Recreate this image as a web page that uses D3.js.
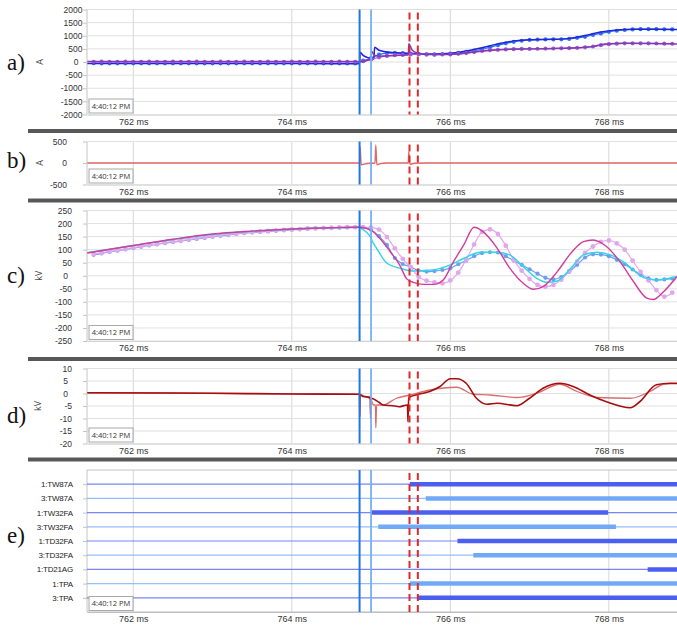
<!DOCTYPE html>
<html>
<head>
<meta charset="utf-8">
<title>Fault record</title>
<script src="https://cdnjs.cloudflare.com/ajax/libs/d3/7.8.5/d3.min.js"></script>
<style>
  body { margin: 0; background: #fff; }
  svg { display: block; font-family: "Open Sans", sans-serif; }
</style>
</head>
<body>
<script>
// ---- time axis (ms) ----
const tStart = 761.416, tEnd = 768.86;
const msTicks = [762, 764, 766, 768];
const stampText = '4:40:12 PM';

// dotted traces are sampled every 0.1 ms starting at 761.5 ms
const gridStart = 761.5, gridStep = 0.1;

// event markers (ms)
const trigMain = 764.855, trigSecond = 765.0;
const tripA = 765.485, tripB = 765.59;

// ---- a) currents, A ----
const aTicks = [-2000, -1500, -1000, -500, 0, 500, 1000, 1500, 2000];
const iaDotted = [
  -48, -50, -50, -52, -50, -50, -50, -52, -50, -50,
  -50, -52, -50, -50, -50, -52, -50, -50, -52, -50,
  -50, -52, -50, -50, -52, -50, -50, -52, -50, -52,
  -50, -52, -55, -55,
  50, 150, 280, 340, 350, 340, 320, 300, 290, 290,
  300, 320, 350, 390, 430, 480, 560, 640, 710, 770,
  810, 840, 855, 860, 860, 865, 880, 920, 960, 1030,
  1090, 1150, 1190, 1220, 1240, 1250, 1250, 1250, 1245, 1240
];
const ibDotted = [
  10, 12, 10, 10, 12, 10, 10, 12, 10, 10,
  12, 10, 10, 12, 10, 10, 12, 10, 10, 12,
  10, 10, 12, 10, 10, 12, 10, 10, 12, 10,
  10, 12, 10, 10,
  30, 100, 180, 230, 260, 270, 290, 300, 290, 280,
  285, 290, 310, 340, 380, 420, 450, 465, 480, 490,
  500, 500, 505, 510, 515, 520, 525, 540, 560, 590,
  640, 680, 700, 710, 710, 710, 710, 705, 700, 695
];
const iaSolid = [
  [761.42, -58], [762.5, -60], [763.5, -60], [764.5, -62], [764.855, -62],
  [764.862, 370], [764.9, 250], [764.95, 175], [765.0, 125], [765.035, 115],
  [765.045, 560], [765.1, 450], [765.2, 385], [765.3, 355], [765.4, 340],
  [765.5, 320], [765.7, 305], [765.9, 315], [766.0, 335], [766.2, 420],
  [766.4, 545], [766.6, 690], [766.8, 805], [767.0, 850], [767.3, 865],
  [767.5, 900], [767.7, 1010], [767.9, 1140], [768.1, 1215], [768.3, 1245],
  [768.6, 1250], [768.86, 1240]
];
const ibSolid = [
  [761.42, 18], [763, 18], [764.86, 15], [764.95, 60], [764.99, 110],
  [765.0, 130], [765.005, 420], [765.04, 260], [765.1, 220], [765.3, 250],
  [765.45, 268], [765.47, 270], [765.476, 700], [765.52, 450], [765.6, 330],
  [765.7, 290], [766.0, 290], [766.3, 385], [766.6, 470], [767.0, 500],
  [767.5, 530], [767.8, 590], [767.95, 690], [768.2, 712], [768.86, 690]
];

// ---- b) residual current, A ----
const bTicks = [-500, 0, 500];
const inTrace = [
  [761.42, 0], [764.855, 0], [764.862, 380], [764.875, -40], [764.95, -10],
  [765.05, 0], [765.06, 420], [765.072, -40], [765.12, -15], [765.2, 0],
  [765.47, 0], [765.476, 260], [765.49, -30], [765.55, -5], [765.7, 0],
  [768.86, 0]
];

// ---- c) voltages, kV ----
const cTicks = [-250, -200, -150, -100, -50, 0, 50, 100, 150, 200, 250];
const vaDotted = [
  80, 86, 91, 96, 101, 106, 111, 116, 120, 125,
  129, 133, 137, 141, 145, 149, 153, 156, 160, 163,
  166, 168, 170, 172, 174, 176, 178, 179, 181, 182,
  183, 184, 185, 186,
  186, 176, 152, 118, 68, 45, 34, 20, 16, 18,
  22, 29, 44, 58, 75, 87, 90, 89, 75, 58,
  42, 25, 8, -8, -14, -5, 15, 42, 70, 82,
  81, 75, 61, 44, 24, 4, -10, -16, -14, -11
];
const vbDotted = [
  83, 88, 93, 98, 103, 108, 113, 118, 122, 127,
  131, 135, 139, 143, 147, 151, 155, 158, 161, 164,
  167, 170, 172, 174, 176, 178, 179, 181, 182, 183,
  184, 185, 186, 186,
  186, 185, 177, 148, 105, 65, 32, -4, -19, -25,
  -29, -18, 12, 62, 120, 168, 178, 160, 115, 60,
  20, -12, -35, -42, -35, -15, 18, 54, 88, 112,
  130, 135, 124, 100, 58, 15, -18, -55, -80, -65
];
const vaSolid = [
  [761.42, 88], [762, 116], [763, 158], [764, 179], [764.85, 186],
  [764.87, 182], [764.99, 150], [765.02, 130], [765.07, 105], [765.2, 48],
  [765.36, 29], [765.53, 18], [765.74, 21], [766.0, 42], [766.17, 67],
  [766.38, 90], [766.59, 90], [766.75, 80], [766.92, 35], [767.09, -10],
  [767.22, -25], [767.35, -20], [767.52, 29], [767.68, 80], [767.85, 90],
  [768.02, 80], [768.18, 54], [768.44, -7], [768.6, -16], [768.86, -3]
];
const vbSolid = [
  [761.42, 87], [762, 116], [762.5, 140], [763, 160], [763.5, 171],
  [764, 179], [764.5, 184], [764.86, 186], [764.99, 176], [765.11, 144],
  [765.24, 93], [765.36, 42], [765.45, -12], [765.53, -25], [765.66, -33],
  [765.79, -33], [765.91, -16], [766.04, 54], [766.17, 118], [766.3, 186],
  [766.41, 170], [766.59, 106], [766.75, 29], [766.92, -29], [767.05, -52],
  [767.17, -42], [767.35, 16], [767.52, 86], [767.68, 131], [767.8, 137],
  [767.97, 112], [768.14, 54], [768.31, -22], [768.48, -86], [768.56, -91],
  [768.69, -61], [768.86, -3]
];

// ---- d) residual voltages, kV ----
const dTicks = [-20, -15, -10, -5, 0, 5, 10];
const vnDark = [
  [761.42, 0.3], [763, 0.1], [764, -0.2], [764.855, -0.3], [764.857, -9.3],
  [764.86, -0.5], [764.9, -1.2], [764.99, -1.5], [764.995, -10], [765.0, -1.9],
  [765.1, -3.5], [765.15, -4.6], [765.3, -5.0], [765.35, -5.3], [765.46, -4.6],
  [765.465, -11.3], [765.475, -1.6], [765.6, -0.3], [765.74, 0.8], [765.87, 2.8],
  [766.0, 5.9], [766.08, 5.9], [766.2, 4.1], [766.33, -1.9], [766.46, -4.3],
  [766.59, -3.9], [766.84, -4.9], [767.0, -1.9], [767.17, 2.1], [767.38, 4.1],
  [767.55, 2.8], [767.76, -0.6], [767.97, -3.3], [768.27, -5.7], [768.39, -3.3],
  [768.6, 3.5], [768.77, 4.1], [768.86, 4.0]
];
const vnLight = [
  [761.42, 0.3], [764.85, -0.3], [764.9, -0.8], [765.0, -2.5], [765.03, -4.6],
  [765.055, -4.6], [765.06, -13.7], [765.07, -4.6], [765.15, -4.6], [765.32, -1.9],
  [765.49, -0.6], [765.74, 1.4], [766.08, 2.5], [766.29, -0.3], [766.5, -0.6],
  [766.84, -1.6], [767.09, 0.1], [767.38, 3.7], [767.6, 0.8], [767.85, -1.6],
  [768.27, -1.9], [768.52, 0.8], [768.69, 3.7], [768.86, 4.1]
];

// ---- e) digital channels ----
const rowNames = ['1:TW87A', '3:TW87A', '1:TW32FA', '3:TW32FA', '1:TD32FA',
                  '3:TD32FA', '1:TD21AG', '1:TPA', '3:TPA'];
const rowOn  = [765.49, 765.69, 765.0, 765.09, 766.09, 766.29, 768.49, 765.49, 765.59];
const rowOff = [null, null, 767.99, 768.09, null, null, null, null, null]; // null = still set at end
const rowTone = ['dark', 'light', 'dark', 'light', 'dark', 'light', 'dark', 'light', 'dark'];

// ------------------------------------------------------------
const W = 677, H = 628, plotLeft = 87;
const svg = d3.select('body').append('svg').attr('width', W).attr('height', H);
const x = d3.scaleLinear().domain([tStart, tEnd]).range([plotLeft, W]);

const gridTimes = n => d3.range(n).map(i => gridStart + i * gridStep);

// dark separator bars between the panels
[129, 198.5, 357, 457.5].forEach(yy => {
  svg.append('rect').attr('x', 28).attr('y', yy).attr('width', W - 28).attr('height', 4)
    .attr('fill', '#585858');
});

function frame(p) {
  const g = svg.append('g');
  const id = 'clip-' + p.key;
  svg.append('clipPath').attr('id', id).append('rect')
    .attr('x', plotLeft).attr('y', p.top).attr('width', W - plotLeft).attr('height', p.bottom - p.top);

  // vertical grid at ms ticks
  g.selectAll('.vg').data(msTicks).enter().append('line')
    .attr('x1', d => x(d)).attr('x2', d => x(d))
    .attr('y1', p.top).attr('y2', p.bottom)
    .attr('stroke', '#d6d6d6').attr('stroke-width', 1);

  // x axis labels
  const xa = g.append('g').attr('transform', `translate(0,${p.bottom})`)
    .call(d3.axisBottom(x).tickValues(msTicks).tickSize(0).tickPadding(4).tickFormat(d => d + ' ms'));
  xa.select('.domain').attr('stroke', '#c4c4c4');
  xa.selectAll('text').attr('fill', '#333').style('font-size', '9px');

  // plot border: left and top
  g.append('line').attr('x1', plotLeft).attr('x2', plotLeft).attr('y1', p.top).attr('y2', p.bottom)
    .attr('stroke', '#c4c4c4');
  g.append('line').attr('x1', plotLeft).attr('x2', W).attr('y1', p.top).attr('y2', p.top)
    .attr('stroke', '#c4c4c4');

  // panel letter
  svg.append('text').attr('x', 7).attr('y', p.letterY).text(p.key + ')')
    .style('font-family', '"Liberation Serif", serif').style('font-size', '23px').attr('fill', '#111');
  return g;
}

function yPanel(p) {
  const g = frame(p);
  const y = d3.scaleLinear().domain(d3.extent(p.ticks)).range([p.bottom, p.top]);

  g.selectAll('.hg').data(p.ticks).enter().append('line')
    .attr('x1', plotLeft).attr('x2', W).attr('y1', d => y(d)).attr('y2', d => y(d))
    .attr('stroke', '#e0e0e0').attr('stroke-width', 1);

  const ya = g.append('g').attr('transform', `translate(${plotLeft},0)`)
    .call(d3.axisLeft(y).tickValues(p.ticks).tickSize(4).tickPadding(p.pad).tickFormat(d => String(d)));
  ya.select('.domain').remove();
  ya.selectAll('line').attr('stroke', '#c4c4c4');
  ya.selectAll('text').attr('fill', '#333').style('font-size', '8.5px')
    .attr('dx', d => (p.shiftOne && String(d).length === 1) ? -4 : 0);

  svg.append('text').attr('transform', `translate(${p.unitX},${(p.top + p.bottom) / 2}) rotate(-90)`)
    .attr('text-anchor', 'middle').attr('dy', '0.35em').text(p.unit)
    .attr('fill', '#444').style('font-size', '9px');

  const plot = g.append('g').attr('clip-path', `url(#clip-${p.key})`);
  return { g, y, plot };
}

function solid(plot, y, pts, color, w) {
  const line = d3.line().x(d => x(d[0])).y(d => y(d[1])).curve(d3.curveMonotoneX);
  plot.append('path').datum(pts).attr('d', line)
    .attr('fill', 'none').attr('stroke', color).attr('stroke-width', w).attr('stroke-linejoin', 'round');
}

function dotted(plot, y, vals, color, r) {
  const pts = gridTimes(vals.length).map((t, i) => [t, vals[i]]);
  solid(plot, y, pts, color, 1.2);
  plot.append('g').selectAll('circle').data(pts).enter().append('circle')
    .attr('cx', d => x(d[0])).attr('cy', d => y(d[1])).attr('r', r).attr('fill', color);
}

function markers(g, p) {
  const mg = g.append('g');
  mg.append('line').attr('x1', x(trigMain)).attr('x2', x(trigMain))
    .attr('y1', p.top).attr('y2', p.bottom).attr('stroke', '#1f77e6').attr('stroke-width', 2);
  mg.append('line').attr('x1', x(trigSecond)).attr('x2', x(trigSecond))
    .attr('y1', p.top).attr('y2', p.bottom).attr('stroke', '#74b1f7').attr('stroke-width', 1.8);
  [tripA, tripB].forEach(t => {
    mg.append('line').attr('x1', x(t)).attr('x2', x(t))
      .attr('y1', p.top + 3).attr('y2', p.bottom).attr('stroke', '#e0282a')
      .attr('stroke-width', 2).attr('stroke-dasharray', '7,4');
  });
}

function stamp(g, p) {
  const bx = plotLeft + 2, bh = 14, bw = 44, by = p.bottom - bh - 1.5;
  g.append('rect').attr('x', bx).attr('y', by).attr('width', bw).attr('height', bh)
    .attr('fill', '#fff').attr('stroke', '#a8a8a8').attr('stroke-width', 1);
  g.append('text').attr('x', bx + bw / 2).attr('y', by + bh / 2).attr('dy', '0.35em')
    .attr('text-anchor', 'middle').text(stampText).attr('fill', '#333').style('font-size', '7.5px');
}

// a)
const pa = { key: 'a', top: 9.5, bottom: 114.5, ticks: aTicks, unit: 'A', unitX: 40, pad: 0.5, shiftOne: true, letterY: 70 };
let s = yPanel(pa);
dotted(s.plot, s.y, iaDotted, '#2c70f2', 2.1);
solid(s.plot, s.y, iaSolid, '#2222d6', 1.5);
dotted(s.plot, s.y, ibDotted, '#a654d8', 2.1);
solid(s.plot, s.y, ibSolid, '#7c3cb2', 1.5);
markers(s.g, pa); stamp(s.g, pa);

// b)
const pb = { key: 'b', top: 141.5, bottom: 184.5, ticks: bTicks, unit: 'A', unitX: 40, pad: 16, shiftOne: false, letterY: 168 };
s = yPanel(pb);
solid(s.plot, s.y, inTrace, '#e26868', 1.4);
markers(s.g, pb); stamp(s.g, pb);

// c)
const pc = { key: 'c', top: 210.5, bottom: 341, ticks: cTicks, unit: 'kV', unitX: 39, pad: 11, shiftOne: true, letterY: 283 };
s = yPanel(pc);
dotted(s.plot, s.y, vaDotted, '#6c9ff1', 2.1);
dotted(s.plot, s.y, vbDotted, '#e2a6ec', 2.4);
solid(s.plot, s.y, vaSolid, '#2fd5ea', 1.4);
solid(s.plot, s.y, vbSolid, '#d23c9c', 1.4);
markers(s.g, pc); stamp(s.g, pc);

// d)
const pd = { key: 'd', top: 368.5, bottom: 443.5, ticks: dTicks, unit: 'kV', unitX: 38, pad: 11, shiftOne: true, letterY: 423 };
s = yPanel(pd);
solid(s.plot, s.y, vnLight, '#d86e6c', 1.3);
solid(s.plot, s.y, vnDark, '#a50e0e', 1.6);
markers(s.g, pd); stamp(s.g, pd);

// e)
const pe = { key: 'e', top: 470, bottom: 612, letterY: 543 };
const ge = frame(pe);
const yr = d3.scalePoint().domain(rowNames).range([pe.top, pe.bottom]).padding(1);
const toneColor = { dark: '#4a5ef0', light: '#70aaf6' };
const ra = ge.append('g').attr('transform', `translate(${plotLeft},0)`)
  .call(d3.axisLeft(yr).tickSize(4).tickPadding(10));
ra.select('.domain').remove();
ra.selectAll('line').attr('stroke', '#c4c4c4');
ra.selectAll('text').attr('fill', '#222').style('font-size', '8px').style('letter-spacing', '-0.2px');
ge.append('line').attr('x1', plotLeft).attr('x2', W).attr('y1', pe.bottom).attr('y2', pe.bottom)
  .attr('stroke', '#b8b8c8');
svg.append('clipPath').attr('id', 'clip-e2').append('rect')
  .attr('x', plotLeft).attr('y', pe.top).attr('width', W - plotLeft).attr('height', pe.bottom - pe.top);
const rowsG = ge.append('g').attr('clip-path', 'url(#clip-e2)');
rowsG.selectAll('.thin').data(rowNames).enter().append('line')
  .attr('x1', plotLeft).attr('x2', W).attr('y1', d => yr(d)).attr('y2', d => yr(d))
  .attr('stroke', (d, i) => toneColor[rowTone[i]]).attr('stroke-opacity', 0.75).attr('stroke-width', 1.2);
rowsG.selectAll('.bar').data(rowNames).enter().append('line')
  .attr('x1', (d, i) => x(rowOn[i])).attr('x2', (d, i) => x(rowOff[i] === null ? tEnd + 0.5 : rowOff[i]))
  .attr('y1', d => yr(d)).attr('y2', d => yr(d))
  .attr('stroke', (d, i) => toneColor[rowTone[i]]).attr('stroke-width', 4.5);
markers(ge, pe); stamp(ge, pe);
</script>
</body>
</html>
